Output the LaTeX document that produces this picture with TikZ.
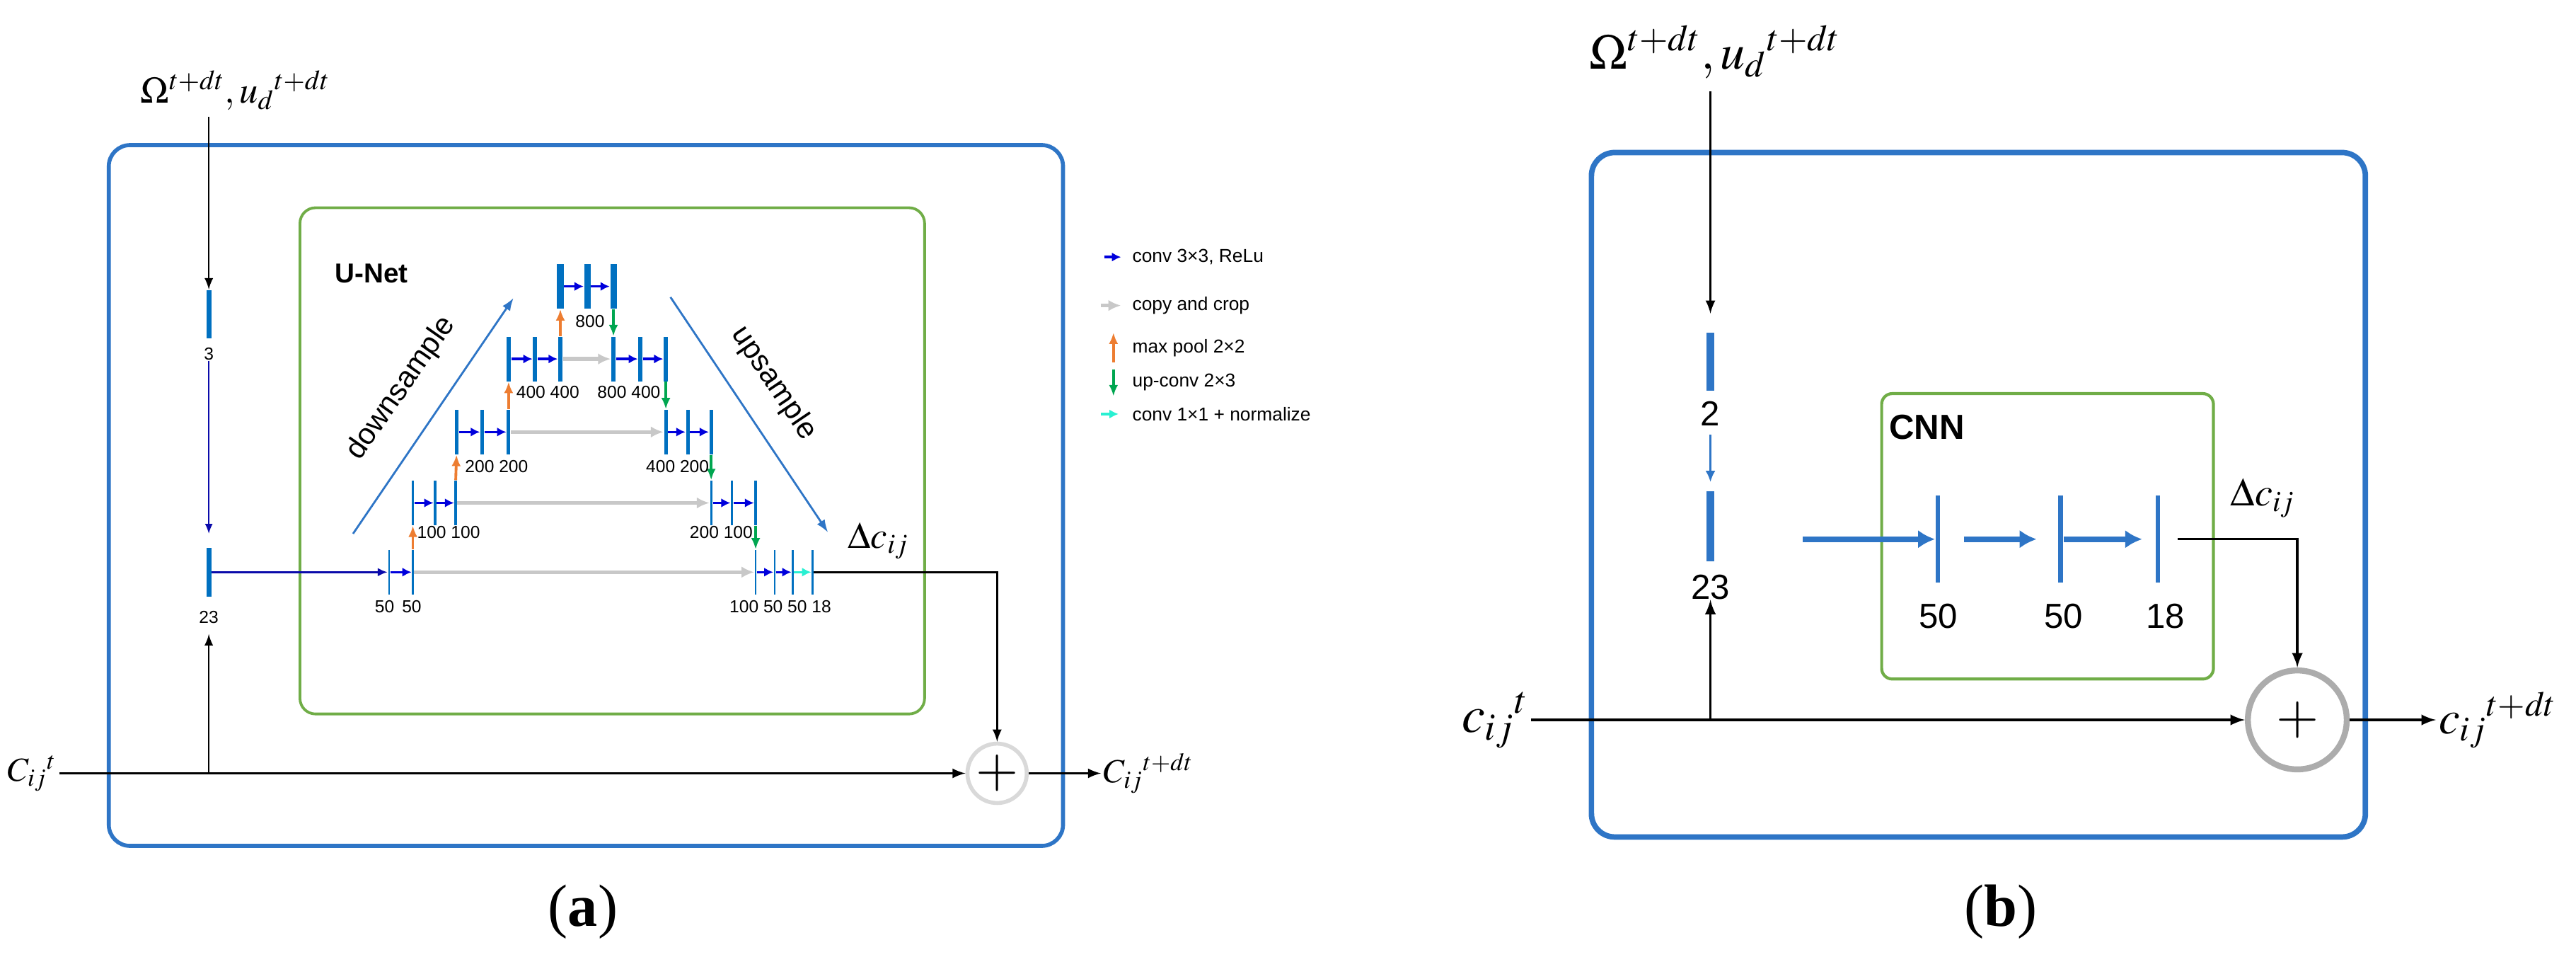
\documentclass[tikz,border=0pt]{standalone}
\usepackage{mathptmx}
\usepackage{fontspec}
\setmainfont{Liberation Serif}
\newfontfamily\sansf{Liberation Sans}
\usetikzlibrary{arrows.meta,positioning}

\definecolor{boxblue}{RGB}{46,117,198}
\definecolor{boxgreen}{RGB}{112,173,71}
\definecolor{barblue}{RGB}{0,112,192}
\definecolor{convblue}{RGB}{0,0,220}
\definecolor{navy}{RGB}{10,10,170}
\definecolor{copygray}{RGB}{200,200,200}
\definecolor{poolorange}{RGB}{237,125,49}
\definecolor{upgreen}{RGB}{0,166,80}
\definecolor{normcyan}{RGB}{40,240,210}

\tikzset{
	bar/.style={fill=barblue, inner sep=0pt, minimum height=0.63cm},
	num/.style={font=\sansf\fontsize{7}{8}\selectfont, inner sep=0pt},
	leg/.style={font=\sansf\fontsize{7.5}{9}\selectfont, anchor=west, inner sep=0pt},
	conv/.style={-{Latex[length=1.3mm,width=1.3mm]}, convblue, line width=1pt},
	copy/.style={-{Latex[length=1.8mm,width=1.6mm]}, copygray, line width=1.5pt},
	pool/.style={-{Latex[length=1.6mm,width=1.3mm]}, poolorange, line width=1.1pt},
	upconv/.style={-{Latex[length=1.6mm,width=1.3mm]}, upgreen, line width=1.1pt},
	norm/.style={-{Latex[length=1.3mm,width=1.3mm]}, normcyan, line width=1pt},
	thick arr/.style={-{Latex[length=2.4mm,width=2.6mm]}, boxblue, line width=2.4pt},
	plus/.style={circle, draw, inner sep=0pt},
}

\begin{document}
\begin{tikzpicture}[x=0.0233cm, y=-0.0233cm]
	\useasboundingbox (0,0) rectangle (1563,580);

	% ---------- (a) ----------
	\draw[boxblue, line width=1.6pt, rounded corners=0.3cm] (66,88) rectangle (645,513);
	\draw[boxgreen, line width=1.1pt, rounded corners=0.22cm] (182,126) rectangle (561,433);
	\node[font=\sansf\bfseries\fontsize{11}{12}\selectfont, anchor=west] (unet) at (198,166) {U-Net};

	\node[anchor=west, font=\fontsize{15}{16}\selectfont] (omA) at (80,55) {$\Omega^{t+dt},u_d{}^{t+dt}$};
	\coordinate (inA) at (126.7,71);
	\node[fill=barblue, inner sep=0pt, minimum width=0.07cm, minimum height=0.68cm] (bar3) at (126.7,190.5) {};
	\node[num] (lab3) at (126.7,214.7) {3};
	\node[fill=barblue, inner sep=0pt, minimum width=0.07cm, minimum height=0.69cm] (bar23) at (126.7,347) {};
	\node[num] (lab23) at (126.7,374.5) {23};
	\draw[-latex, line width=0.6pt] (inA) -- (bar3);
	\draw[-{Latex[length=1.4mm,width=1.1mm]}, navy, line width=0.6pt, shorten >=0.19cm] (lab3) -- (bar23);

	% encoder / decoder bars
	\foreach \n/\x/\y/\w in {d0a/236/347/1, d0b/250.5/347/1,
		d1a/250.5/305/1.4, d1b/264/305/1.4, d1c/276.5/305/1.4,
		d2a/277/262/2.2, d2b/292.6/262/2.2, d2c/308.6/262/2.2,
		d3a/308.6/217.7/2.6, d3b/324.7/217.7/2.6, d3c/340/217.7/2.6,
		d4a/340/173.7/3.9, d4b/356.4/173.7/3.9, d4c/372.2/173.7/3.9,
		u3a/372.2/217.7/2.6, u3b/388.6/217.7/2.6, u3c/404/217.7/2.6,
		u2a/404/262/2.2, u2b/417.3/262/2.2, u2c/431.5/262/2.2,
		u1a/431.5/305/1.4, u1b/444.2/305/1.4, u1c/458.5/305/1.4,
		u0a/458.5/347/1, u0b/470/347/1, u0c/481/347/1, u0d/493/347/1}
	{
		\node[bar, minimum width=\w*0.0233cm] (\n) at (\x,\y) {};
	}

	\foreach \a/\b in {d0a/d0b, d1a/d1b, d1b/d1c, d2a/d2b, d2b/d2c, d3a/d3b, d3b/d3c, d4a/d4b, d4b/d4c,
		u3a/u3b, u3b/u3c, u2a/u2b, u2b/u2c, u1a/u1b, u1b/u1c, u0a/u0b, u0b/u0c}
	{
		\draw[conv] (\a) -- (\b);
	}
	\draw[norm] (u0c) -- (u0d);

	\foreach \a/\b in {d0b/u0a, d1c/u1a, d2c/u2a, d3c/u3a}
	{
		\draw[copy] (\a) -- (\b);
	}
	\foreach \a/\b in {d0b/d1a, d1c/d2a, d2c/d3a, d3c/d4a}
	{
		\draw[pool] (\a.north) -- (\b.south);
	}
	\foreach \a/\b in {d4c/u3a, u3c/u2a, u2c/u1a, u1c/u0a}
	{
		\draw[upconv] (\a.south) -- (\b.north);
	}

	\node[num] (n4) at (358,195) {800};
	\node[num] (n3l) at (332.4,237.8) {400 400};
	\node[num] (n3r) at (381.6,237.8) {800 400};
	\node[num] (n2l) at (301.3,283) {200 200};
	\node[num] (n2r) at (411.1,283) {400 200};
	\node[num] (n1l) at (272.2,322.9) {100 100};
	\node[num] (n1r) at (437.6,322.9) {200 100};
	\node[num] (n0l) at (241.6,368) {50 \,50};
	\node[num] (n0r) at (473.5,368) {100 50 50 18};

	\coordinate (dsA) at (214.2,323.7);
	\coordinate (dsB) at (311.6,180.7);
	\coordinate (usA) at (406.8,180.2);
	\coordinate (usB) at (502.4,322.9);
	\draw[-{Latex[length=1.8mm,width=1.3mm]}, boxblue, line width=0.8pt] (dsA) -- (dsB);
	\draw[-{Latex[length=1.8mm,width=1.3mm]}, boxblue, line width=0.8pt] (usA) -- (usB);
	\node[font=\sansf\fontsize{12}{13}\selectfont, rotate=55] (down) at (243.5,235.5) {downsample};
	\node[font=\sansf\fontsize{12}{13}\selectfont, rotate=-56] (up) at (469.5,232.5) {upsample};

	\draw[-{Latex[length=1.4mm,width=1.2mm]}, navy, line width=0.8pt] (bar23) -- (d0a);

	% legend
	\coordinate (lg1) at (669.9,155.9);
	\coordinate (lg2) at (667.8,185.3);
	\coordinate (lg3) at (675.6,219.6);
	\coordinate (lg4) at (675.6,223.9);
	\coordinate (lg5) at (668,251.1);
	\draw[conv] (lg1) -- +(10.3,0);
	\draw[copy] (lg2) -- +(12.4,0);
	\draw[pool] (lg3) -- +(0,-17.9);
	\draw[upconv] (lg4) -- +(0,16.4);
	\draw[norm] (lg5) -- +(10.7,0);
	\node[leg] (t1) at (686.8,155.9) {conv 3×3, ReLu};
	\node[leg] (t2) at (686.8,185.3) {copy and crop};
	\node[leg] (t3) at (686.8,211) {max pool 2×2};
	\node[leg] (t4) at (686.8,232) {up-conv 2×3};
	\node[leg] (t5) at (686.8,251.1) {conv 1×1 + normalize};

	% sum
	\node[anchor=east, font=\fontsize{13.5}{14}\selectfont, inner sep=1pt] (CinA) at (36,469) {$C_{ij}{}^{t}$};
	\node[plus, draw=gray!30, line width=1.6pt, minimum size=36*0.0233cm, font=\fontsize{22}{22}\selectfont] (plusA) at (605,469) {$+$};
	\node[anchor=west, font=\fontsize{13.5}{14}\selectfont, inner sep=1pt] (CoutA) at (668,469) {$C_{ij}{}^{t+dt}$};
	\coordinate (brA) at (126.7,469);
	\draw[-latex, line width=0.8pt] (CinA.east |- plusA) -- (plusA);
	\draw[-latex, line width=0.8pt] (plusA) -- (CoutA.west |- plusA);
	\draw[-latex, line width=0.6pt, shorten >=0.14cm] (brA) -- (lab23);
	\draw[-latex, line width=0.7pt] (u0d) -- (u0d -| plusA) -- (plusA);
	\node[font=\fontsize{15}{16}\selectfont] (dcA) at (533,328) {$\Delta c_{ij}$};
	\node[font=\fontsize{24}{24}\selectfont] (capA) at (353.7,553) {(\textbf{a})};

	% ---------- (b) ----------
	\draw[boxblue, line width=2.2pt, rounded corners=0.33cm] (965.6,92.5) rectangle (1435.2,507.6);
	\draw[boxgreen, line width=1.2pt, rounded corners=0.15cm] (1141.7,238.7) rectangle (1343,411.8);
	\node[font=\sansf\bfseries\fontsize{14}{15}\selectfont, anchor=west, inner sep=0pt] (cnn) at (1146,259) {CNN};

	\node[anchor=west, font=\fontsize{20}{21}\selectfont, inner sep=0pt] (omB) at (964,31.5) {$\Omega^{t+dt},u_d{}^{t+dt}$};
	\coordinate (inB) at (1037.8,55.5);
	\node[fill=boxblue, inner sep=0pt, minimum width=0.107cm, minimum height=0.82cm] (bar2b) at (1037.8,219.2) {};
	\node[font=\sansf\fontsize{14}{15}\selectfont, inner sep=0pt] (lab2b) at (1037.8,250.9) {2};
	\node[fill=boxblue, inner sep=0pt, minimum width=0.107cm, minimum height=0.99cm] (bar23b) at (1037.8,319.1) {};
	\node[font=\sansf\fontsize{14}{15}\selectfont, inner sep=0pt] (lab23b) at (1037.8,356) {23};
	\draw[-latex, line width=0.8pt, shorten >=0.26cm] (inB) -- (bar2b);
	\draw[-{Latex[length=1.6mm,width=1.4mm]}, boxblue, line width=1pt, shorten <=0.12cm, shorten >=0.12cm] (lab2b) -- (bar23b);

	\foreach \n/\x in {cb1/1175.8, cb2/1250.3, cb3/1309.2}
	{
		\node[fill=boxblue, inner sep=0pt, minimum width=0.065cm, minimum height=1.23cm] (\n) at (\x,327) {};
	}
	\foreach \n/\x/\l in {nb1/1176/50, nb2/1252/50, nb3/1313.8/18}
	{
		\node[font=\sansf\fontsize{14}{15}\selectfont, inner sep=0pt] (\n) at (\x,373.7) {\l};
	}
	\coordinate (inC) at (1093.9,327);
	\draw[thick arr] (inC) -- (cb1);
	\draw[thick arr, shorten <=0.33cm, shorten >=0.3cm] (cb1) -- (cb2);
	\draw[thick arr, shorten >=0.18cm] (cb2) -- (cb3);

	\node[anchor=east, font=\fontsize{21}{22}\selectfont, inner sep=1pt] (CinB) at (929,436.6) {$c_{ij}{}^{t}$};
	\node[plus, draw=gray!65, line width=2.4pt, minimum size=60*0.0233cm, font=\fontsize{22}{22}\selectfont] (plusB) at (1393.9,436.6) {$+$};
	\node[anchor=west, font=\fontsize{19}{20}\selectfont, inner sep=1pt] (CoutB) at (1478,436.6) {$c_{ij}{}^{t+dt}$};
	\coordinate (brB) at (1037.8,436.6);
	\draw[-latex, line width=1pt] (CinB.east |- brB) -- (plusB);
	\draw[-latex, line width=1pt] (plusB) -- (CoutB.west |- plusB);
	\draw[-latex, line width=1pt] (brB) -- (lab23b);
	\draw[-latex, line width=1pt, shorten <=0.24cm] (cb3.east |- inC) -- (plusB |- inC) -- (plusB);
	\node[font=\fontsize{16}{17}\selectfont] (dcB) at (1373,302) {$\Delta c_{ij}$};
	\node[font=\fontsize{24}{24}\selectfont] (capB) at (1214,553) {(\textbf{b})};
\end{tikzpicture}
\end{document}
